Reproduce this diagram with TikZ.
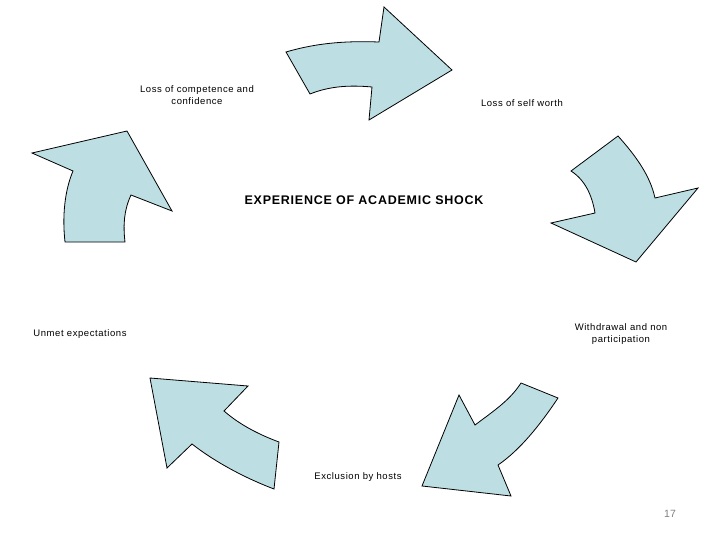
\documentclass[tikz,border=0pt]{standalone}
\usepackage{fontspec}
\setmainfont{Liberation Sans}
\newfontfamily\spaced[LetterSpace=6]{Liberation Sans}
\definecolor{arrfill}{HTML}{BDDFE3}
\begin{document}
\begin{tikzpicture}[x=1pt,y=-1pt,
  arr/.style={draw=black,fill=arrfill,line width=0.8pt,line join=miter},
  lbl/.style={font=\spaced\fontsize{9.5}{12}\selectfont,align=center,inner sep=0pt}]
\useasboundingbox (0,0) rectangle (720,540);
\draw[arr] (286,52) .. controls (320,42) and (350,41) .. (379,42) -- (384,7) -- (452,70) -- (369,120) -- (372,87) .. controls (350,85) and (330,86) .. (310,94) -- cycle;
\draw[arr] (571,171) -- (618,136) .. controls (635,155) and (650,175) .. (655,198) -- (698,188) -- (636,262) -- (551,223) -- (595,213) .. controls (592,195) and (585,180) .. (571,171) -- cycle;
\draw[arr] (521,383) -- (558,398) .. controls (540,425) and (520,450) .. (498,465) -- (511,496) -- (422,486) -- (459,395) -- (475,425) .. controls (495,410) and (510,400) .. (521,383) -- cycle;
\draw[arr] (150,378) -- (248,386) -- (224,411) .. controls (240,425) and (260,435) .. (279,442) -- (274,489) .. controls (245,478) and (215,462) .. (192,444) -- (167,468) -- cycle;
\draw[arr] (32,153) -- (127,131) -- (172,211) -- (131,195) .. controls (124,210) and (123,225) .. (125,242) -- (65,242) .. controls (62,215) and (65,190) .. (73,171) -- cycle;
\node[lbl] (t1) at (197,95) {Loss of competence and\\confidence};
\node[lbl] (t2) at (522,103) {Loss of self worth};
\node[lbl] (t3) at (621,334) {Withdrawal and non\\participation};
\node[lbl] (t4) at (358,477) {Exclusion by hosts};
\node[lbl] (t5) at (80,334) {Unmet expectations};
\node[lbl,font=\spaced\bfseries\fontsize{12.5}{14}\selectfont] (c) at (364,200) {EXPERIENCE OF ACADEMIC SHOCK};
\node[lbl,text=gray,font=\fontsize{10.5}{12}\selectfont] (n) at (670,514) {17};
\end{tikzpicture}
\end{document}
